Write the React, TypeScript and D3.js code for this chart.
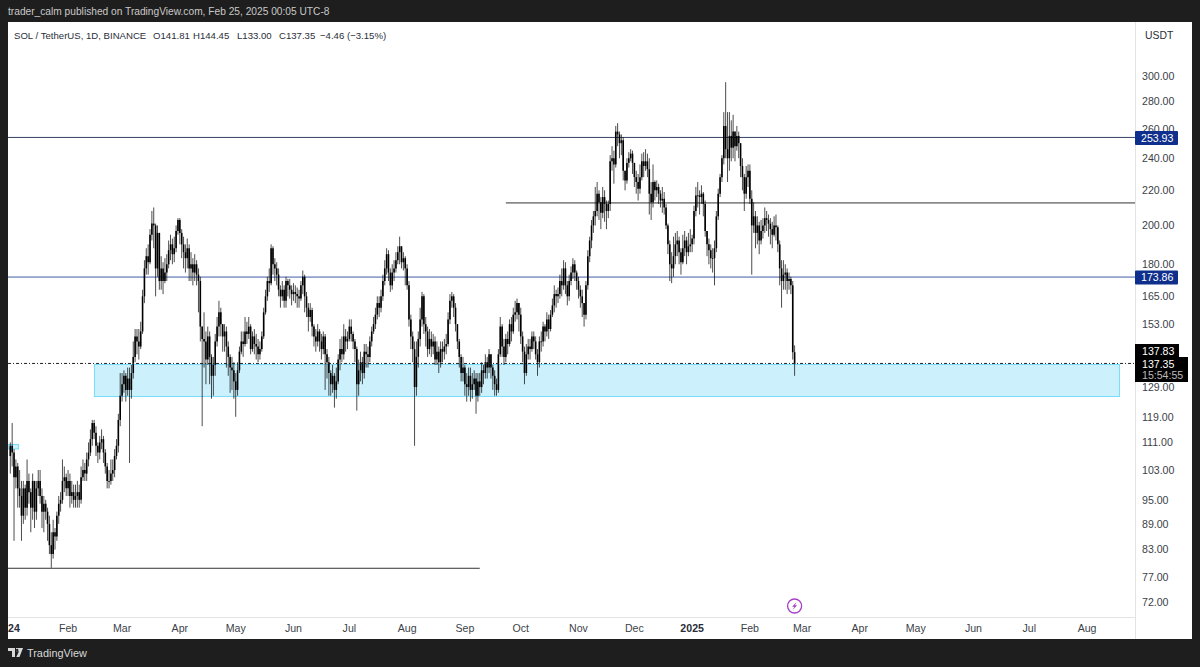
import React from "react";
import * as d3 from "d3";

// Daily candles from 2024-01-01 to 2025-02-25. Open = previous close.
const closes: number[] = [
  110,108,101,104,98,96,91,98,93,100,97,93,100,92,98,100,96,92,94,92,89,84,82,87,86,91,94,95,100,101,98,
  100,96,97,95,96,97,95,101,103,102,106,108,112,117,114,110,108,111,112,108,104,100,100,102,103,107,110,118,126,
  130,133,128,132,128,134,140,148,146,144,150,165,178,184,181,195,201,200,178,196,172,178,172,176,180,187,190,185,188,197,203,
  196,190,186,183,188,178,180,176,180,175,172,152,147,146,139,148,140,133,137,146,152,158,153,148,150,144,140,136,135,131,
  128,135,142,146,145,150,149,152,143,148,145,144,141,143,148,158,165,172,171,188,180,178,175,168,165,168,163,172,170,168,166,
  167,166,165,164,170,174,165,160,156,159,152,148,146,150,146,143,148,141,138,134,130,133,128,131,139,143,141,148,146,147,
  152,149,146,143,130,135,138,134,142,141,140,146,150,153,157,162,160,165,172,178,185,176,170,176,178,182,186,189,181,183,178,
  170,155,148,143,129,140,147,155,165,153,150,143,147,144,146,139,142,138,143,142,144,145,155,163,165,160,153,146,140,134,136,
  130,129,133,128,130,132,126,131,129,135,134,138,136,141,136,133,130,128,141,152,144,140,147,145,153,150,157,158,162,157,
  148,142,134,141,144,143,148,146,141,138,146,146,152,150,155,151,157,161,166,165,166,172,170,178,170,165,172,176,180,176,172,
  168,165,162,157,170,184,192,200,205,208,218,213,207,216,212,208,212,238,240,236,258,256,250,252,232,226,237,240,243,237,
  228,225,221,228,238,235,238,233,218,213,225,220,222,218,214,215,210,200,190,180,178,184,190,192,186,181,188,192,186,189,190,
  193,208,217,217,216,218,212,197,190,187,183,183,188,205,218,228,240,262,246,240,255,247,258,248,255,250,235,228,218,228,232,
  215,200,205,196,200,192,197,200,204,203,201,198,195,200,199,190,178,172,175,176,172,173,170,141.81,137.35,
];
const highs: number[] = [
  111,117,109,106,105,103,100,100,99,106,102,98,102,100,100,103,103,98,96,95,93,91,87,90,88,92,96,97,106,104,102,
  103,102,100,99,99,100,99,104,106,105,108,111,115,118,118,116,111,113,115,113,109,105,103,106,106,109,112,120,134,
  134,135,134,136,136,137,146,151,151,151,154,168,182,188,190,198,208,210,201,200,196,184,181,183,185,192,195,193,194,200,204,
  204,198,194,190,193,190,186,183,185,182,178,174,152,158,150,152,150,141,140,149,156,163,160,153,153,152,146,141,140,138,
  134,138,144,150,150,156,154,156,153,150,151,149,147,146,150,160,168,174,178,190,189,183,181,178,170,172,170,174,173,173,170,
  171,170,169,168,172,177,175,167,162,162,160,153,151,153,151,149,150,149,143,140,135,137,134,136,141,147,148,153,151,150,
  155,155,150,147,144,139,142,140,145,145,144,148,152,156,160,165,165,168,175,182,188,187,178,180,182,186,189,194,189,186,184,
  180,172,157,150,146,146,150,160,167,166,156,152,151,150,149,148,146,144,146,146,147,149,158,166,167,166,162,152,147,141,140,
  137,134,136,136,134,135,134,134,134,138,137,141,140,143,141,137,135,132,143,156,153,147,149,150,155,156,160,163,164,161,
  160,150,144,145,147,147,150,150,148,143,148,150,154,153,158,157,159,164,170,168,169,175,178,182,181,172,175,179,183,182,177,
  174,170,168,162,172,187,194,203,208,222,225,220,216,222,220,214,214,242,248,245,262,264,258,256,254,232,240,244,246,245,
  235,232,230,236,243,244,246,243,240,225,236,226,226,224,220,222,219,212,201,192,186,194,196,197,194,188,195,197,194,196,198,
  195,211,222,225,220,223,219,214,197,193,190,188,192,208,221,230,242,272,295,272,272,266,270,256,262,258,250,240,230,235,236,
  236,220,213,208,205,202,203,204,210,208,206,204,202,205,206,200,192,182,182,180,178,176,174,172,144.45,
];
const lows: number[] = [
  102,104,85,98,93,93,85,89,90,91,94,87,90,88,90,96,94,88,87,90,85,82,79,81,83,85,89,92,94,97,96,
  96,93,94,93,93,93,93,94,100,100,100,104,107,110,112,107,105,106,109,105,102,98,98,99,100,101,106,108,116,
  124,127,124,126,105,125,132,138,141,139,143,149,162,175,175,180,192,188,165,174,168,168,166,171,172,178,182,180,181,186,195,
  190,183,178,176,178,172,172,170,172,170,158,146,116,136,130,137,130,125,126,133,144,148,148,142,142,136,133,127,128,125,
  119,126,134,141,140,144,145,147,141,142,141,139,138,139,142,147,157,163,167,170,175,172,170,165,160,163,160,160,165,164,161,
  163,162,160,160,163,166,158,156,150,154,148,144,142,144,142,139,141,128,132,126,126,127,122,125,130,135,138,139,142,143,
  146,146,143,138,121,126,131,130,132,136,136,138,144,149,151,155,156,158,163,170,175,172,167,168,172,176,180,180,178,177,170,
  168,152,143,138,110,126,136,144,152,149,144,140,141,140,141,137,137,134,136,138,139,141,144,153,160,156,150,143,136,131,131,
  126,124,126,124,125,128,120,124,126,127,130,132,132,134,132,128,126,126,127,140,140,137,138,141,144,146,149,154,155,150,
  145,138,130,133,139,139,142,143,139,133,136,142,144,146,148,147,150,156,158,160,162,164,165,168,166,161,163,170,173,172,168,
  164,160,156,152,155,168,181,188,196,200,205,203,198,204,202,198,204,208,232,224,234,248,240,242,226,220,224,234,238,230,
  222,218,214,218,226,228,232,228,206,203,210,214,216,212,210,207,206,198,185,172,171,174,180,184,180,175,180,184,180,184,186,
  186,190,205,210,206,212,205,194,184,180,178,176,170,186,203,216,225,236,240,225,232,238,240,238,245,240,228,220,208,215,222,
  212,175,196,188,190,185,190,193,196,197,194,190,188,194,192,186,170,160,168,168,166,168,166,139,133,
];
const firstOpen = 107;

const priceTicks = [300, 280, 260, 240, 220, 200, 180, 165, 153, 129, 119, 111, 103, 95, 89, 83, 77, 72];
const timeTicks: [string, string, boolean][] = [
  ["2024-02-01", "Feb", false], ["2024-03-01", "Mar", false], ["2024-04-01", "Apr", false], ["2024-05-01", "May", false],
  ["2024-06-01", "Jun", false], ["2024-07-01", "Jul", false], ["2024-08-01", "Aug", false], ["2024-09-01", "Sep", false],
  ["2024-10-01", "Oct", false], ["2024-11-01", "Nov", false], ["2024-12-01", "Dec", false], ["2025-01-01", "2025", true],
  ["2025-02-01", "Feb", false], ["2025-03-01", "Mar", false], ["2025-04-01", "Apr", false], ["2025-05-01", "May", false],
  ["2025-06-01", "Jun", false], ["2025-07-01", "Jul", false], ["2025-08-01", "Aug", false],
];
const titleParts: [string, number][] = [
  ["SOL / TetherUS, 1D, BINANCE", 14], ["O141.81", 153], ["H144.45", 193], ["L133.00", 237],
  ["C137.35", 279], ["−4.46 (−3.15%)", 320],
];
const resistance = 253.93;
const midLevel = 212.6;
const pivot = 173.86;
const floorLevel = 78.9;
const lastClose = 137.35;
const zoneTop = 137.2;
const zoneBottom = 125.9;
const zoneStart = "2024-02-15";
const zoneEnd = "2025-08-18";
const midStart = "2024-09-23";
const floorEnd = "2024-09-09";

const FONT = "'Liberation Sans', Arimo, Arial, sans-serif";
const DAY = 864e5;
const t0 = Date.UTC(2024, 0, 1);
const x = d3.scaleUtc().domain([new Date(t0), new Date(t0 + 421 * DAY)]).range([10.3, 794.6]);
const y = d3.scaleLog().domain([300, 72]).range([76, 602]);
const L = 8, R = 1135, T = 22, B = 617;

export default function App() {
  const candles = closes.map((c, i) => {
    const o = i === 0 ? firstOpen : closes[i - 1];
    const hi = Math.max(highs[i], o, c);
    const lo = Math.min(lows[i], o, c);
    return { i, o, c, hi, lo, px: x(new Date(t0 + i * DAY)) };
  });
  const zx0 = Math.round(x(new Date(zoneStart))) + 0.5, zx1 = Math.round(x(new Date(zoneEnd))) + 0.5;
  const zy0 = Math.round(y(zoneTop)) + 0.5, zy1 = Math.round(y(zoneBottom)) + 0.5;
  const ly = y(lastClose);
  const cx = x(new Date(t0 + 421 * DAY)), cy = 606;
  return (
    <svg width={1200} height={667} viewBox="0 0 1200 667"
      style={{ position: "fixed", left: 0, top: 0, display: "block", fontFamily: FONT }}>
      <defs>
        <clipPath id="plot"><rect x={L} y={T} width={R - L} height={B - T} /></clipPath>
      </defs>
      <rect width={1200} height={667} fill="#1e1e1e" />
      <rect x={L} y={T} width={1192 - L} height={639 - T} fill="#ffffff" />
      <text x={8} y={15} fontSize={10.2} fill="#c9c9c9">trader_calm published on TradingView.com, Feb 25, 2025 00:05 UTC-8</text>
      {titleParts.map(([s, px]) => (
        <text key={s} x={px} y={39} fontSize={9.6} fill="#2a2e39">{s}</text>
      ))}

      <g clipPath="url(#plot)">
        <rect x={zx0} y={zy0} width={zx1 - zx0} height={zy1 - zy0} fill="#cdf1fc" stroke="#7ddcf7" strokeWidth={1.1} />
        <rect x={8} y={444.5} width={10.5} height={4.5} fill="#cdf1fc" stroke="#7ddcf7" strokeWidth={1.1} />
        <line x1={L} x2={R} y1={y(resistance)} y2={y(resistance)} stroke="#1d2c55" strokeWidth={0.9} />
        <line x1={x(new Date(midStart))} x2={R} y1={y(midLevel)} y2={y(midLevel)} stroke="#333" strokeWidth={1} />
        <line x1={L} x2={R} y1={y(pivot)} y2={y(pivot)} stroke="#3f5ca6" strokeWidth={1} />
        <line x1={L} x2={x(new Date(floorEnd))} y1={y(floorLevel)} y2={y(floorLevel)} stroke="#333" strokeWidth={1} />
        {candles.map(d => (
          <g key={d.i}>
            <line x1={d.px} x2={d.px} y1={y(d.hi)} y2={y(d.lo)} stroke="#000" strokeOpacity={0.7} strokeWidth={1} />
            <line x1={d.px} x2={d.px} y1={y(Math.max(d.o, d.c))} y2={Math.max(y(Math.min(d.o, d.c)), y(Math.max(d.o, d.c)) + 0.8)} stroke="#000" strokeWidth={1.6} />
          </g>
        ))}
        <line x1={L} x2={R} y1={ly - 0.5} y2={ly - 0.5} stroke="#222" strokeWidth={1} strokeDasharray="3 2 1 2" />
      </g>

      <circle cx={cx} cy={cy} r={7} fill="#fff" stroke="#a83fc9" strokeWidth={1.3} />
      <path d={`M${cx + 2} ${cy - 4}L${cx - 2.5} ${cy + 0.8}H${cx - 0.2}L${cx - 2} ${cy + 4}L${cx + 2.6} ${cy - 0.8}H${cx + 0.3}Z`} fill="#a83fc9" />

      <line x1={R + 0.5} x2={R + 0.5} y1={T} y2={639} stroke="#e3e3e3" />
      <line x1={L} x2={R} y1={B + 0.5} y2={B + 0.5} stroke="#e3e3e3" />
      <text x={1145} y={39} fontSize={10.4} fill="#2a2e39">USDT</text>

      {priceTicks.map(p => (
        <text key={p} x={1142} y={y(p) + 3.8} fontSize={10.6} fill="#3c3f48">{p.toFixed(2)}</text>
      ))}
      {timeTicks.map(([d, label, bold]) => (
        <text key={d} x={x(new Date(d))} y={632} fontSize={10.6} textAnchor="middle"
          fontWeight={bold ? 700 : 400} fill={bold ? "#2a2e39" : "#3c3f48"}>{label}</text>
      ))}
      <text x={8} y={632} fontSize={10.6} fontWeight={700} fill="#2a2e39">24</text>

      <rect x={R} y={131} width={43} height={14} rx={1} fill="#0f2f8c" />
      <text x={1141} y={141.6} fontSize={10.6} fill="#fff">{resistance.toFixed(2)}</text>
      <rect x={R} y={270.5} width={43} height={14} rx={1} fill="#0f2f8c" />
      <text x={1141} y={281.2} fontSize={10.6} fill="#fff">{pivot.toFixed(2)}</text>

      <rect x={R} y={344} width={44} height={14} fill="#000" />
      <text x={1142} y={354.5} fontSize={10.6} fill="#fff">137.83</text>
      <rect x={R} y={357} width={53} height={25} fill="#000" />
      <text x={1142} y={367.5} fontSize={10.6} fill="#fff">137.35</text>
      <text x={1142} y={378.5} fontSize={10.6} fill="#bbb">15:54:55</text>

      <path d="M8 648H15V657H12V651H8ZM16 648H23L19.5 657H16.3L19 651.3H16Z" fill="#d8d8d8" />
      <circle cx={17.2} cy={650} r={1.2} fill="#1e1e1e" />
      <text x={27} y={657} fontSize={10.9} fill="#d8d8d8">TradingView</text>
    </svg>
  );
}
